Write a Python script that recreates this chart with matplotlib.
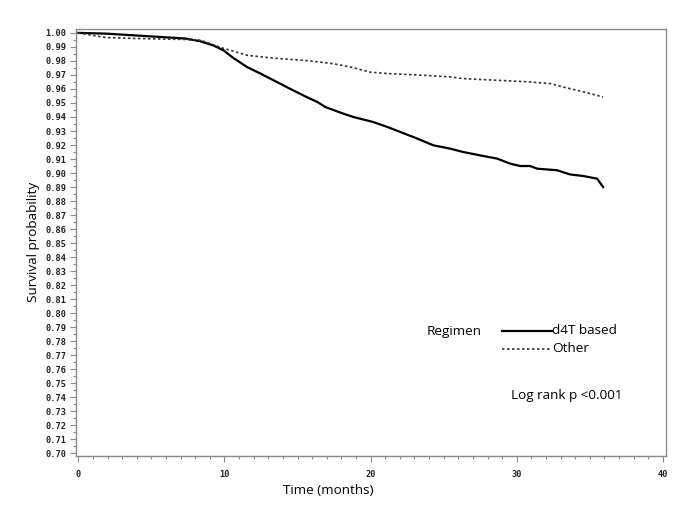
import numpy as np
import matplotlib
matplotlib.use("Agg")
import matplotlib.pyplot as plt
from matplotlib.ticker import MultipleLocator, FormatStrFormatter

# Kaplan-Meier estimates (months, survival)
d4t_time = [0, 1.87, 7.33, 8.36, 9.25, 9.93, 10.62, 11.57, 12.46, 13.62,
            14.51, 15.67, 16.36, 16.90, 18.13, 18.82, 20.18, 21.14, 22.03,
            23.19, 24.29, 25.45, 26.34, 27.50, 28.66, 29.55, 30.24, 30.92,
            31.40, 32.76, 33.65, 34.54, 35.50, 35.91]
d4t_surv = [1.000, 0.9995, 0.996, 0.994, 0.991, 0.9876, 0.982, 0.9755,
            0.971, 0.9648, 0.960, 0.954, 0.9507, 0.9471, 0.9424, 0.940,
            0.9364, 0.9329, 0.9293, 0.9246, 0.9198, 0.9174, 0.915, 0.9126,
            0.9103, 0.9067, 0.905, 0.905, 0.9031, 0.902, 0.899, 0.8979,
            0.896, 0.890]

other_time = [0, 1.87, 4.0, 7.33, 8.36, 9.25, 9.93, 11.57, 13.37, 15.88,
              17.45, 18.61, 19.98, 21.14, 23.19, 25.45, 26.34, 28.66, 30.92,
              32.29, 33.18, 34.54, 35.91]
other_surv = [1.000, 0.9967, 0.996, 0.9953, 0.9948, 0.9915, 0.989, 0.984,
              0.982, 0.980, 0.978, 0.9757, 0.972, 0.971, 0.970, 0.9686,
              0.9674, 0.9662, 0.965, 0.9638, 0.9614, 0.958, 0.9543]

W, H = 685, 513
fig = plt.figure(figsize=(W / 100, H / 100), dpi=100)
ax = fig.add_axes([76 / W, 1 - 455.7 / H, (665.5 - 76) / W, (455.7 - 28.7) / H])

ax.plot(d4t_time, d4t_surv, color="black", lw=1.6, solid_joinstyle="miter")
ax.plot(other_time, other_surv, color="#333333", lw=1.2, ls=(0, (1.5, 1.5)))

ax.set_xlim(-0.16, 40.18)
ax.set_ylim(0.6983, 1.003)

ax.xaxis.set_major_locator(MultipleLocator(10))
ax.xaxis.set_minor_locator(MultipleLocator(1))
ax.yaxis.set_major_locator(MultipleLocator(0.01))
ax.yaxis.set_minor_locator(MultipleLocator(0.005))
ax.yaxis.set_major_formatter(FormatStrFormatter("%.2f"))

grey = "#8a8a8a"
for s in ax.spines.values():
    s.set_color(grey)
    s.set_linewidth(1.0)
ax.tick_params(which="both", direction="out", color=grey, width=0.8)
ax.tick_params(which="major", length=4)
ax.tick_params(which="minor", length=2.5)
for lab in ax.get_xticklabels() + ax.get_yticklabels():
    lab.set_family("DejaVu Sans Mono")
    lab.set_fontweight("bold")
    lab.set_fontsize(6.2)
    lab.set_color("#222222")
ax.tick_params(axis="x", pad=6)
ax.tick_params(axis="y", pad=3)

tf = "Open Sans"
fs = 9.7
ax.set_ylabel("Survival probability", family=tf, fontsize=fs, labelpad=4)
fig.text(328 / W, 1 - 490 / H, "Time (months)", family=tf, fontsize=fs,
         ha="center", va="center")

# legend drawn by hand as in the original
def px(x, y):
    return x / W, 1 - y / H

fig.text(*px(427, 331), "Regimen", family=tf, fontsize=fs, va="center")
fig.add_artist(plt.Line2D([502 / W, 552 / W], [1 - 331 / H] * 2,
                          color="black", lw=1.6))
fig.text(*px(552, 331), "d4T based", family=tf, fontsize=fs, va="center")
fig.add_artist(plt.Line2D([502 / W, 551 / W], [1 - 349 / H] * 2,
                          color="#333333", lw=1.2, ls=(0, (1.5, 1.5))))
fig.text(*px(552, 349), "Other", family=tf, fontsize=fs, va="center")
fig.text(*px(511, 396), "Log rank p <0.001", family=tf, fontsize=fs,
         va="center")

fig.savefig("out.png", dpi=100)
